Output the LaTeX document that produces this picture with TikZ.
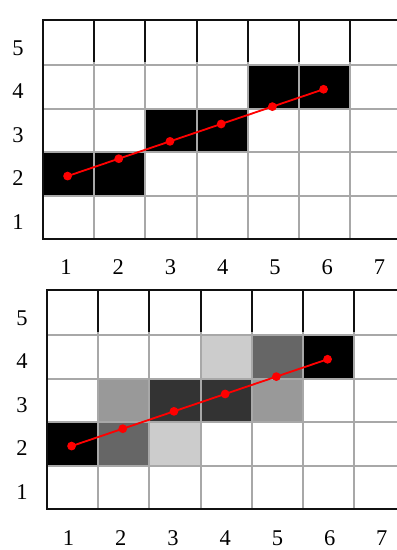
\documentclass[tikz,border=0pt]{standalone}
\usepackage{fontspec}
\setmainfont{Liberation Serif}
\usepackage{tikz}
\usetikzlibrary{calc}
\usepackage{xcolor}
\definecolor{gridgray}{HTML}{A8A8A8}
\definecolor{frameink}{HTML}{111111}
\definecolor{pixred}{HTML}{FF0000}
\definecolor{shadeA}{HTML}{333333}
\definecolor{shadeB}{HTML}{666666}
\definecolor{shadeC}{HTML}{999999}
\definecolor{shadeD}{HTML}{CCCCCC}
\tikzset{
    gridline/.style={
        line width=1.3pt,
        color=gridgray
    },
    frame/.style={
        line width=1.4pt,
        color=frameink
    },
    ideal/.style={
        line width=1.3pt,
        color=pixred
    },
    ticklabel/.style={
        font=\fontsize{16}{18}\selectfont,
        inner sep=0pt
    }
}

\begin{document}
\begin{tikzpicture}[x=1.28cm,y=1.085cm]

    \def\top{5.05}

    % Cadre de l'image
    \useasboundingbox (-0.84,-7.166) rectangle (6.914,5.507);
    \fill[white] (-0.84,-7.166) rectangle (6.914,5.507);
    \clip (-0.84,-7.166) rectangle (6.914,5.507);

    % ---- Grille du haut : pixels allumes ----
    \begin{scope}

        % Pixels
        \foreach \c/\r in {1/2,2/2,3/3,4/3,5/4,6/4}
            \fill[black] (\c-1,\r-1) rectangle (\c,\r);

        % Lignes de grille
        \foreach \i in {1,...,7}
            \draw[gridline] (\i,0) -- (\i,4.08);
        \foreach \j in {1,...,4}
            \draw[gridline] (0,\j) -- (7.2,\j);

        % Rangee du haut
        \foreach \i in {1,...,7}
            \draw[frame] (\i,4.08) -- (\i,\top);

        % Bords
        \draw[frame]
            (7.2,\top) -- (0,\top) -- (0,0) -- (7.2,0);

        % Graduations
        \foreach \k in {1,...,5}
            \node[ticklabel] (a-r\k) at (-0.49,\k-0.6) {\k};
        \foreach \k in {1,...,7}
            \node[ticklabel] (a-c\k) at ({1.02*\k-0.57},-0.65) {\k};

        % Segment ideal
        \foreach \k in {1,...,6}
            \coordinate (a-p\k) at ({\k-0.52},{1.45+0.4*(\k-1)});
        \draw[ideal] (a-p1) -- (a-p6);
        \foreach \k in {1,...,6}
            \fill[pixred] (a-p\k) circle (1.1mm);

    \end{scope}

    % ---- Grille du bas : anticrenelage ----
    \begin{scope}[shift={(0.078,-6.221)}]

        % Pixels
        \foreach \c/\r/\s in {4/4/shadeD,5/4/shadeB,6/4/black,
                              2/3/shadeC,3/3/shadeA,4/3/shadeA,5/3/shadeC,
                              1/2/black,2/2/shadeB,3/2/shadeD}
            \fill[\s] (\c-1,\r-1) rectangle (\c,\r);

        % Lignes de grille
        \foreach \i in {1,...,7}
            \draw[gridline] (\i,0) -- (\i,4.08);
        \foreach \j in {1,...,4}
            \draw[gridline] (0,\j) -- (7.2,\j);

        % Rangee du haut
        \foreach \i in {1,...,7}
            \draw[frame] (\i,4.08) -- (\i,\top);

        % Bords
        \draw[frame]
            (7.2,\top) -- (0,\top) -- (0,0) -- (7.2,0);

        % Graduations
        \foreach \k in {1,...,5}
            \node[ticklabel] (b-r\k) at (-0.49,\k-0.6) {\k};
        \foreach \k in {1,...,7}
            \node[ticklabel] (b-c\k) at ({1.02*\k-0.6},-0.67) {\k};

        % Segment ideal
        \foreach \k in {1,...,6}
            \coordinate (b-p\k) at ({\k-0.52},{1.45+0.4*(\k-1)});
        \draw[ideal] (b-p1) -- (b-p6);
        \foreach \k in {1,...,6}
            \fill[pixred] (b-p\k) circle (1.1mm);

    \end{scope}

\end{tikzpicture}
\end{document}
